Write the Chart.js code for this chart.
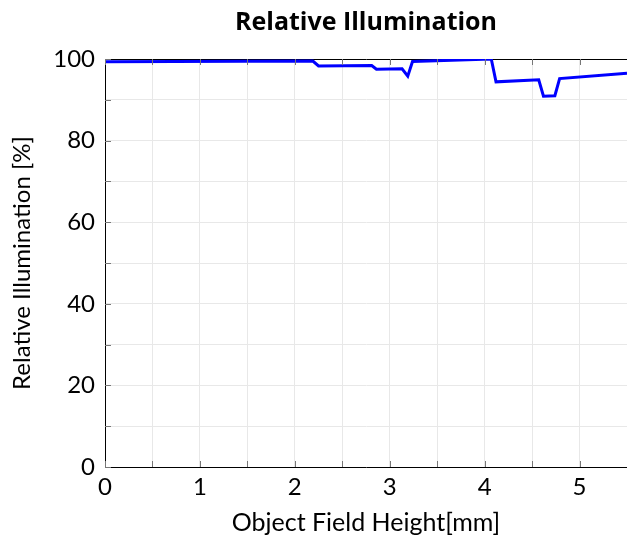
<!DOCTYPE html>
<html>
<head>
<meta charset="utf-8">
<script src="https://cdn.jsdelivr.net/npm/chart.js@4/dist/chart.umd.min.js"></script>
<style>
  html, body { margin: 0; padding: 0; background: #fff; overflow: hidden; }
  #wrap { width: 627px; height: 538px; }
</style>
</head>
<body>
<div id="wrap"><canvas id="c" width="627" height="538"></canvas></div>
<script>
// field height (mm) and relative illumination (%)
const fieldHeight = [0, 2.19, 2.25, 2.81, 2.86, 3.13, 3.19, 3.24, 4.07, 4.12, 4.57, 4.62, 4.74, 4.79, 5.5];
const illumination = [99.3, 99.5, 98.3, 98.4, 97.5, 97.6, 95.8, 99.4, 100, 94.4, 94.9, 90.9, 91.0, 95.2, 96.5];
const xTickLabels = [0, 1, 2, 3, 4, 5];
const yTickLabels = [0, 20, 40, 60, 80, 100];

const labelFont = "Lato, 'DejaVu Sans', sans-serif";

// short inward tick marks like the pgfplots frame
const innerTicks = {
  id: "innerTicks",
  afterDraw(chart) {
    const { ctx, chartArea: a, scales } = chart;
    ctx.save();
    ctx.strokeStyle = "#777";
    ctx.lineWidth = 1;
    ctx.beginPath();
    scales.x.ticks.forEach((t) => {
      const px = Math.round(scales.x.getPixelForValue(t.value)) + 0.5;
      ctx.moveTo(px, a.bottom);
      ctx.lineTo(px, a.bottom - 6);
      ctx.moveTo(px, a.top);
      ctx.lineTo(px, a.top + 6);
    });
    scales.y.ticks.forEach((t) => {
      const py = Math.round(scales.y.getPixelForValue(t.value)) + 0.5;
      ctx.moveTo(a.left, py);
      ctx.lineTo(a.left + 6, py);
    });
    ctx.stroke();
    ctx.restore();
  },
};

const noSidePad = (s) => {
  s.paddingLeft = 0;
  s.paddingRight = 0;
};

new Chart(document.getElementById("c"), {
  type: "line",
  data: {
    datasets: [
      {
        data: fieldHeight.map((x, i) => ({ x, y: illumination[i] })),
        borderColor: "#0000ff",
        borderWidth: 3,
        pointRadius: 0,
        tension: 0,
        fill: false,
      },
    ],
  },
  options: {
    responsive: false,
    animation: false,
    layout: { padding: 0 },
    plugins: {
      legend: { display: false },
      tooltip: { enabled: false },
      title: { display: false },
    },
    scales: {
      x: {
        type: "linear",
        min: 0,
        max: 5.5,
        afterFit: (s) => { s.height = 71; noSidePad(s); },
        ticks: {
          stepSize: 0.5,
          autoSkip: false,
          maxRotation: 0,
          color: "#000",
          padding: 6,
          font: { family: labelFont, size: 24 },
          callback: (v) => (xTickLabels.includes(v) ? String(v) : ""),
        },
        grid: { color: "#e8e8e8", drawTicks: false },
        border: { color: "#000", width: 1 },
        title: {
          display: true,
          text: "Object Field Height[mm]",
          color: "#000",
          font: { family: labelFont, size: 25 },
          padding: { top: 0, bottom: 0 },
        },
      },
      x2: {
        type: "linear",
        position: "top",
        min: 0,
        max: 5.5,
        afterFit: (s) => { s.height = 59; noSidePad(s); },
        ticks: { display: false },
        grid: { display: false, drawTicks: false },
        border: { color: "#000", width: 1 },
        // chart title sits on the top axis so it centres over the plot area
        title: {
          display: true,
          text: "Relative Illumination",
          color: "#000",
          font: { family: "'Open Sans', sans-serif", size: 25, weight: "bold", lineHeight: 1.2 },
          padding: { top: 8, bottom: 0 },
        },
      },
      y: {
        min: 0,
        max: 100,
        afterFit: (s) => { s.width = 105; },
        ticks: {
          stepSize: 10,
          autoSkip: false,
          color: "#000",
          padding: 10,
          font: { family: labelFont, size: 24 },
          callback: (v) => (yTickLabels.includes(v) ? String(v) : ""),
        },
        grid: { color: "#e8e8e8", drawTicks: false },
        border: { color: "#000", width: 1 },
        title: {
          display: true,
          text: "Relative Illumination [%]",
          color: "#000",
          font: { family: labelFont, size: 24 },
          padding: { top: 8, bottom: 0 },
        },
      },
    },
  },
  plugins: [innerTicks],
});
</script>
</body>
</html>
